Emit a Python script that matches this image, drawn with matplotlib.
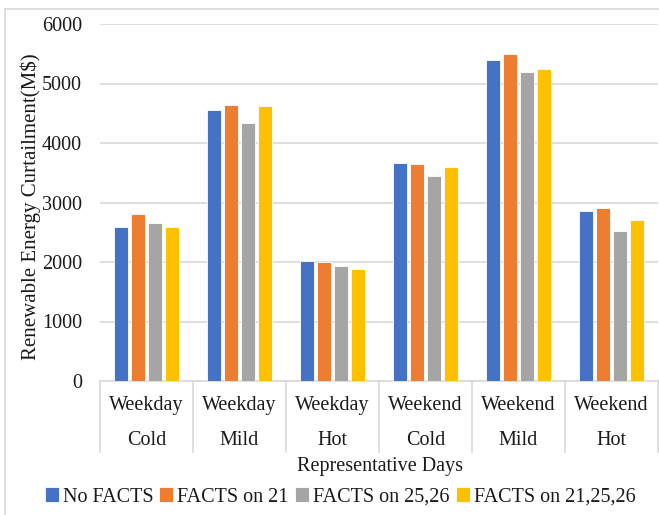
import matplotlib
matplotlib.use("Agg")
import matplotlib.pyplot as plt
from matplotlib.patches import Rectangle
import numpy as np

plt.rcParams['font.family'] = ['Liberation Serif', 'DejaVu Serif']

day_types = ["Weekday", "Weekday", "Weekday", "Weekend", "Weekend", "Weekend"]
seasons = ["Cold", "Mild", "Hot", "Cold", "Mild", "Hot"]
series_names = ["No FACTS", "FACTS on 21", "FACTS on 25,26", "FACTS on 21,25,26"]
no_facts = [2590, 4560, 2020, 3670, 5400, 2860]
facts_21 = [2810, 4640, 2000, 3640, 5500, 2900]
facts_2526 = [2650, 4330, 1930, 3440, 5200, 2520]
facts_212526 = [2580, 4630, 1890, 3600, 5250, 2700]
colors = ["#4472C4", "#ED7D31", "#A5A5A5", "#FFC000"]

W, H = 659, 515
fig = plt.figure(figsize=(W / 100, H / 100), dpi=100)
ax = fig.add_axes([100 / W, 1 - 381 / H, 558 / W, 357 / H])

x = np.arange(len(seasons))
step = 0.183
width = 0.15
all_series = [no_facts, facts_21, facts_2526, facts_212526]
handles = []
for i, (vals, c, name) in enumerate(zip(all_series, colors, series_names)):
    b = ax.bar(x + (i - 1.5) * step, vals, width, color=c, edgecolor="white",
               linewidth=0.6, label=name, zorder=3)
    handles.append(b)

ax.set_xlim(-0.5, 5.5)
ax.set_ylim(0, 6000)
ax.set_yticks(range(0, 6001, 1000))
ax.tick_params(axis='y', length=0, pad=13, labelsize=14.5, labelcolor="#1a1a1a")
ax.set_xticks([])
ax.grid(axis='y', color="#d9d9d9", linewidth=1.2, zorder=0)
for s in ["left", "right", "top"]:
    ax.spines[s].set_visible(False)
ax.spines["bottom"].set_color("#d9d9d9")
ax.spines["bottom"].set_linewidth(1.2)

trans = ax.get_xaxis_transform()
for xi, d, s in zip(x, day_types, seasons):
    ax.text(xi, -0.068, d, transform=trans, ha="center", va="center",
            fontsize=14.5, color="#1a1a1a")
    ax.text(xi, -0.168, s, transform=trans, ha="center", va="center",
            fontsize=14.5, color="#1a1a1a")
for xb in np.arange(-0.5, 6.0, 1.0):
    ax.plot([xb, xb], [0, -0.199], transform=trans, color="#d9d9d9",
            linewidth=1.2, clip_on=False)

fig.text(380 / W, 1 - 466 / H, "Representative Days", ha="center", va="center",
         fontsize=14.5, color="#1a1a1a")
fig.text(31 / W, 1 - 207 / H, "Renewable Energy Curtailment(M$)", ha="center",
         va="center", rotation=90, fontsize=15, color="#1a1a1a")

leg = fig.legend(handles=handles, labels=series_names, loc="center",
                 bbox_to_anchor=(340 / W, 1 - 497 / H), ncol=4, frameon=False,
                 fontsize=14.5, handlelength=0.7, handleheight=0.7,
                 handletextpad=0.2, columnspacing=0.3, borderpad=0)
for t in leg.get_texts():
    t.set_color("#1a1a1a")

fig.patches.append(Rectangle((5 / W, -0.05), 1.2, 1 - 9 / H + 0.05,
                             transform=fig.transFigure, fill=False,
                             edgecolor="#d9d9d9", linewidth=1.2))

fig.savefig("out.png", dpi=100)
